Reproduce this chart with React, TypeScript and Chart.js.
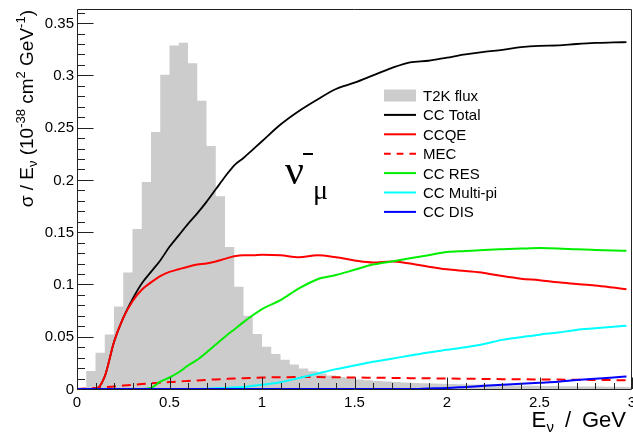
import React, { useEffect, useRef } from 'react';
import { Chart, registerables } from 'chart.js';

Chart.register(...registerables);

// ---------- data ----------
const FLUX_EDGES = [
  0, 0.05, 0.1, 0.15, 0.2, 0.25, 0.3, 0.35, 0.4, 0.45,
  0.5, 0.55, 0.6, 0.65, 0.7, 0.75, 0.8, 0.85, 0.9, 0.95,
  1.0, 1.05, 1.1, 1.15, 1.2, 1.25, 1.3, 1.35, 1.4, 1.45,
  1.5, 1.55, 1.6, 1.65, 1.7, 1.75, 1.8, 1.85, 1.9, 1.95,
  2.0, 2.05, 2.1, 2.15, 2.2, 2.25, 2.3, 2.35, 2.4, 2.45,
  2.5, 2.55, 2.6, 2.65, 2.7, 2.75, 2.8, 2.85, 2.9, 2.95, 3.0,
];
const T2K_FLUX = [
  0.0, 0.0173, 0.0346, 0.0522, 0.0788, 0.1114, 0.1531, 0.1979, 0.2459, 0.3007,
  0.3285, 0.3311, 0.3116, 0.2757, 0.2325, 0.1844, 0.1358, 0.0978, 0.0701, 0.0525,
  0.0405, 0.0335, 0.028, 0.0235, 0.0196, 0.017, 0.0148, 0.013, 0.0115, 0.0102,
  0.0092, 0.0084, 0.0077, 0.0071, 0.0066, 0.0062, 0.0058, 0.0055, 0.0052, 0.005,
  0.0048, 0.0046, 0.0044, 0.0042, 0.004, 0.0038, 0.0036, 0.0034, 0.0032, 0.003,
  0.0029, 0.0028, 0.0027, 0.0026, 0.0025, 0.0024, 0.0023, 0.0022, 0.0021, 0.002,
];

const ENERGY = [
  0, 0.05, 0.1, 0.15, 0.2, 0.25, 0.3, 0.35, 0.4, 0.45, 0.5, 0.55, 0.6, 0.65, 0.7,
  0.75, 0.8, 0.85, 0.9, 0.95, 1.0, 1.1, 1.2, 1.3, 1.4, 1.5, 1.6, 1.7, 1.8, 1.9,
  2.0, 2.1, 2.2, 2.3, 2.4, 2.5, 2.6, 2.7, 2.8, 2.9, 2.97,
];
const CC_TOTAL = [
  0, 0, 0, 0.012, 0.045, 0.068, 0.086, 0.101, 0.112, 0.123, 0.136, 0.147, 0.158, 0.168, 0.179,
  0.191, 0.203, 0.214, 0.221, 0.229, 0.237, 0.253, 0.266, 0.277, 0.287, 0.293, 0.3, 0.307, 0.3125, 0.314,
  0.317, 0.32, 0.3225, 0.3245, 0.327, 0.3283, 0.3287, 0.33, 0.331, 0.3315, 0.3318,
];
const CCQE = [
  0, 0, 0, 0.012, 0.045, 0.068, 0.084, 0.095, 0.102, 0.108, 0.112, 0.1145, 0.117, 0.119, 0.12,
  0.122, 0.1245, 0.127, 0.128, 0.128, 0.1285, 0.128, 0.126, 0.128, 0.126, 0.123, 0.121, 0.122, 0.12, 0.117,
  0.1145, 0.1128, 0.111, 0.108, 0.1055, 0.104, 0.102, 0.1005, 0.099, 0.097, 0.0955,
];
const MEC = [
  0, 0.0005, 0.001, 0.0017, 0.0025, 0.0033, 0.004, 0.0048, 0.0055, 0.006, 0.0066, 0.0072, 0.0077, 0.0082, 0.0087,
  0.0092, 0.0096, 0.01, 0.0104, 0.0107, 0.011, 0.0113, 0.0114, 0.0114, 0.0112, 0.011, 0.0108, 0.0106, 0.0104, 0.0102,
  0.01, 0.0098, 0.0096, 0.0094, 0.0093, 0.0091, 0.009, 0.0088, 0.0087, 0.0085, 0.0084,
];
const CC_RES = [
  0, 0, 0, 0, 0, 0, 0, 0, 0.001, 0.007, 0.011, 0.016, 0.0225, 0.028, 0.035,
  0.0425, 0.05, 0.057, 0.064, 0.0705, 0.0765, 0.085, 0.0962, 0.105, 0.109, 0.114, 0.119, 0.122, 0.125, 0.128,
  0.131, 0.132, 0.133, 0.1337, 0.1343, 0.1348, 0.1345, 0.1336, 0.133, 0.1325, 0.1322,
];
const CC_MULTIPI = [
  0, 0, 0, 0, 0, 0, 0, 0, 0, 0, 0, 0, 0, 0.0001, 0.0003,
  0.0006, 0.001, 0.0015, 0.002, 0.003, 0.004, 0.0065, 0.0105, 0.0148, 0.019, 0.0225, 0.026, 0.029, 0.032, 0.035,
  0.0375, 0.04, 0.043, 0.047, 0.0495, 0.052, 0.054, 0.0565, 0.058, 0.0595, 0.0605,
];
const CC_DIS = [
  0, 0, 0, 0, 0, 0, 0, 0, 0, 0, 0, 0, 0, 0, 0,
  0, 0, 0, 0, 0, 0, 0, 0, 0, 0, 0, 0, 0, 0, 0.0005,
  0.001, 0.002, 0.003, 0.004, 0.005, 0.006, 0.007, 0.0085, 0.0098, 0.011, 0.012,
];

const X_TICKS = [0, 0.5, 1, 1.5, 2, 2.5, 3];
const X_TICK_LABELS = ['0', '0.5', '1', '1.5', '2', '2.5', '3'];
const Y_TICKS = [0, 0.05, 0.1, 0.15, 0.2, 0.25, 0.3, 0.35];
const Y_TICK_LABELS = ['0', '0.05', '0.1', '0.15', '0.2', '0.25', '0.3', '0.35'];

const LEGEND_LABELS = ['T2K flux', 'CC Total', 'CCQE', 'MEC', 'CC RES', 'CC Multi-pi', 'CC DIS'];
const LEGEND_COLORS = ['#cccccc', '#000000', '#ff0000', '#ff0000', '#00ee00', '#00ffff', '#0000ff'];

const SANS = '"Liberation Sans", Arial, Helvetica, sans-serif';
const SERIF = '"Liberation Serif", "Times New Roman", serif';

function toPoints(xs: number[], ys: number[]) {
  return ys.map((y, i) => ({ x: xs[i], y }));
}

function histPoints() {
  const pts = [{ x: FLUX_EDGES[0], y: 0 }];
  T2K_FLUX.forEach((v, i) => pts.push({ x: FLUX_EDGES[i], y: v }));
  pts.push({ x: FLUX_EDGES[FLUX_EDGES.length - 1], y: T2K_FLUX[T2K_FLUX.length - 1] });
  pts.push({ x: FLUX_EDGES[FLUX_EDGES.length - 1], y: 0 });
  return pts;
}

const rootPlugin = {
  id: 'rootStyle',
  afterDatasetsDraw(chart: any) {
    const ctx = chart.ctx as CanvasRenderingContext2D;
    const { left, right, top, bottom } = chart.chartArea;
    const xs = chart.scales.x;
    const ys = chart.scales.y;
    ctx.save();

    // frame
    ctx.strokeStyle = '#222';
    ctx.lineWidth = 1;
    ctx.beginPath();
    ctx.rect(Math.round(left) + 0.5, Math.round(top) + 0.5, Math.round(right - left) - 1, Math.round(bottom - top));
    ctx.stroke();

    // x ticks
    ctx.beginPath();
    for (let i = 0; i <= 30; i++) {
      const v = i / 10;
      const px = Math.round(xs.getPixelForValue(v)) + 0.5;
      const major = i % 5 === 0;
      ctx.moveTo(px, bottom);
      ctx.lineTo(px, bottom - (major ? 11.5 : 6));
    }
    // y ticks
    for (let i = 0; i <= 36; i++) {
      const v = i / 100;
      const py = Math.round(ys.getPixelForValue(v)) + 0.5;
      if (py < top) continue;
      const major = i % 5 === 0;
      ctx.moveTo(left, py);
      ctx.lineTo(left + (major ? 16.5 : 8), py);
    }
    ctx.stroke();

    // tick labels
    ctx.fillStyle = '#000';
    ctx.font = `15px ${SANS}`;
    ctx.textAlign = 'center';
    ctx.textBaseline = 'alphabetic';
    X_TICKS.forEach((v, i) => {
      ctx.fillText(X_TICK_LABELS[i], xs.getPixelForValue(v), 407);
    });
    ctx.textAlign = 'right';
    ctx.textBaseline = 'middle';
    Y_TICKS.forEach((v, i) => {
      ctx.fillText(Y_TICK_LABELS[i], left - 3, ys.getPixelForValue(v) + 0.5);
    });

    // x title
    ctx.textAlign = 'left';
    ctx.textBaseline = 'alphabetic';
    ctx.font = `22px ${SANS}`;
    ctx.fillText('E', 531.5, 427);
    ctx.font = `15px ${SANS}`;
    ctx.fillText('ν', 546.5, 432);
    ctx.font = `22px ${SANS}`;
    ctx.fillText('/', 565, 427);
    ctx.fillText('GeV', 582, 427);

    // y title (rotated)
    const pieces = [
      { t: 'σ / E', s: 19, dy: 0 },
      { t: 'ν', s: 13, dy: 4 },
      { t: ' (10', s: 19, dy: 0 },
      { t: '-38', s: 13, dy: -8 },
      { t: ' cm', s: 19, dy: 0 },
      { t: '2', s: 13, dy: -8 },
      { t: ' GeV', s: 19, dy: 0 },
      { t: '-1', s: 13, dy: -8 },
      { t: ')', s: 19, dy: 0 },
    ];
    let total = 0;
    pieces.forEach((p) => {
      ctx.font = `${p.s}px ${SANS}`;
      total += ctx.measureText(p.t).width;
    });
    ctx.save();
    ctx.translate(33, 10);
    ctx.rotate(-Math.PI / 2);
    let cx = -total;
    pieces.forEach((p) => {
      ctx.font = `${p.s}px ${SANS}`;
      ctx.fillText(p.t, cx, p.dy);
      cx += ctx.measureText(p.t).width;
    });
    ctx.restore();

    // legend
    const lx0 = 384;
    const lx1 = 416;
    LEGEND_LABELS.forEach((lab, i) => {
      const cy = 95.5 + i * 19.4;
      if (i === 0) {
        ctx.fillStyle = LEGEND_COLORS[0];
        ctx.fillRect(lx0, cy - 6, lx1 - lx0, 12);
      } else {
        ctx.strokeStyle = LEGEND_COLORS[i];
        ctx.lineWidth = 2;
        ctx.setLineDash(i === 3 ? [6.7, 6] : []);
        ctx.beginPath();
        ctx.moveTo(lx0, cy);
        ctx.lineTo(lx1, cy);
        ctx.stroke();
        ctx.setLineDash([]);
      }
      ctx.fillStyle = '#000';
      ctx.font = `15px ${SANS}`;
      ctx.textAlign = 'left';
      ctx.textBaseline = 'alphabetic';
      ctx.fillText(lab, 423, cy + 5.5);
    });

    // nu-bar mu label
    ctx.fillStyle = '#000';
    ctx.font = `42px ${SERIF}`;
    ctx.fillText('ν', 285, 183.5);
    ctx.fillRect(303, 153, 10, 2);
    ctx.font = `28px ${SERIF}`;
    ctx.fillText('μ', 313, 199);

    ctx.restore();
  },
};

export default function App() {
  const ref = useRef<HTMLCanvasElement | null>(null);
  useEffect(() => {
    document.body.style.margin = '0';
    const line = (data: number[], color: string, extra: any = {}) => ({
      type: 'line',
      data: toPoints(ENERGY, data),
      borderColor: color,
      borderWidth: 2,
      pointRadius: 0,
      fill: false,
      cubicInterpolationMode: 'monotone',
      ...extra,
    });
    const chart = new Chart(ref.current as HTMLCanvasElement, {
      type: 'line',
      data: {
        datasets: [
          line(CC_DIS, '#0000ff', { label: 'CC DIS', order: 1 }),
          line(CC_MULTIPI, '#00ffff', { label: 'CC Multi-pi', order: 2 }),
          line(CC_RES, '#00ee00', { label: 'CC RES', order: 3 }),
          line(MEC, '#ff0000', { label: 'MEC', order: 4, borderDash: [9, 6] }),
          line(CCQE, '#ff0000', { label: 'CCQE', order: 5 }),
          line(CC_TOTAL, '#000000', { label: 'CC Total', order: 6, borderWidth: 1.8 }),
          {
            type: 'line',
            label: 'T2K flux',
            data: histPoints(),
            stepped: 'before',
            borderWidth: 0,
            borderColor: 'rgba(0,0,0,0)',
            backgroundColor: '#cccccc',
            fill: 'origin',
            pointRadius: 0,
            order: 10,
          },
        ] as any,
      },
      options: {
        responsive: false,
        animation: false,
        devicePixelRatio: 1,
        layout: { padding: { left: 77, top: 9, right: 1, bottom: 44 }, autoPadding: false },
        scales: {
          x: { type: 'linear', min: 0, max: 3, display: false },
          y: { type: 'linear', min: 0, max: 0.3635, display: false },
        },
        plugins: { legend: { display: false }, tooltip: { enabled: false } },
      } as any,
      plugins: [rootPlugin],
    });
    return () => chart.destroy();
  }, []);
  return <canvas ref={ref} width={633} height={433} style={{ display: 'block' }} />;
}
